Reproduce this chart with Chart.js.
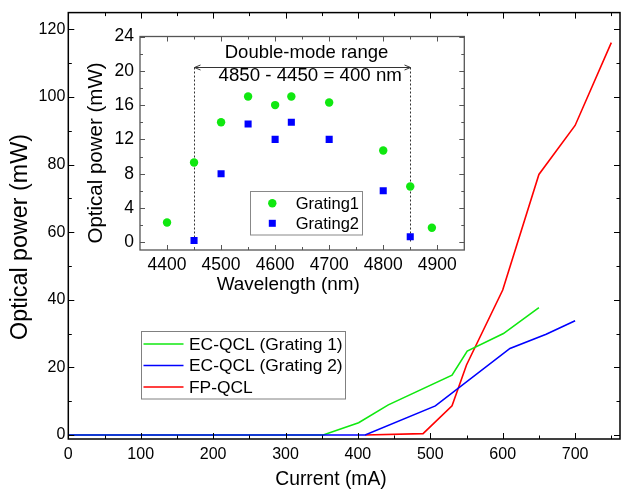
<!DOCTYPE html>
<html><head><meta charset="utf-8">
<script src="https://cdn.jsdelivr.net/npm/chart.js@4.4.1/dist/chart.umd.min.js"></script>
<style>
html,body{margin:0;padding:0;background:#fff;}
#wrap{position:relative;width:622px;height:491px;overflow:hidden;background:#fff;}
#main{position:absolute;left:0;top:0;}
#inset{position:absolute;left:80px;top:20px;}
</style></head><body>
<div id="wrap"><canvas id="main" width="622" height="491"></canvas><canvas id="inset" width="400" height="280"></canvas></div>
<script>
// ---- main chart data ----
const currentG1 = [0, 352, 401, 442, 530, 551, 601, 650];
const powerG1   = [0, 0, 3.6, 8.9, 17.7, 24.8, 30.0, 37.7];
const currentG2 = [0, 410, 507, 610, 660, 700];
const powerG2   = [0, 0, 8.6, 25.6, 29.8, 33.8];
const currentFP = [410, 490, 530, 550, 600, 650, 700, 750];
const powerFP   = [0, 0.4, 8.6, 20.7, 42.9, 77.1, 91.6, 116.1];
const mainXTicks = [0, 100, 200, 300, 400, 500, 600, 700];
const mainXMinor = [50, 150, 250, 350, 450, 550, 650, 750];
const mainYTicks = [0, 20, 40, 60, 80, 100, 120];
const mainYMinor = [10, 30, 50, 70, 90, 110];
const mainLabels = ['EC-QCL (Grating 1)', 'EC-QCL (Grating 2)', 'FP-QCL'];

// ---- inset data ----
const wlG1 = [4400, 4450, 4500, 4550, 4600, 4630, 4700, 4800, 4850, 4890];
const pwG1 = [2.3, 9.3, 14.0, 17.0, 16.0, 17.0, 16.3, 10.7, 6.5, 1.7];
const wlG2 = [4450, 4500, 4550, 4600, 4630, 4700, 4800, 4850];
const pwG2 = [0.2, 8.0, 13.8, 12.0, 14.0, 12.0, 6.0, 0.65];
const insetXTicks = [4400, 4500, 4600, 4700, 4800, 4900];
const insetXMinor = [4450, 4550, 4650, 4750, 4850];
const insetYTicks = [0, 4, 8, 12, 16, 20, 24];
const insetYMinor = [2, 6, 10, 14, 18, 22];
const insetLabels = ['Grating1', 'Grating2'];
const rangeStart = 4450, rangeEnd = 4850, arrowLevel = 20.4;
const rangeTitle = 'Double-mode range';
const rangeText = '4850 - 4450 = 400 nm';

const FONT = "'Liberation Sans', Arial, Helvetica, sans-serif";
const pts = (xs, ys) => xs.map((x, i) => ({x: x, y: ys[i]}));
const fixTicks = vals => s => { s.ticks = vals.map(v => ({value: v})); };
const plain = v => String(v);

function drawFrameTicks(chart, xMaj, xMin, yMaj, yMin, majLen, minLen, color, lw) {
  const ctx = chart.ctx, a = chart.chartArea, xs = chart.scales.x, ys = chart.scales.y;
  ctx.save();
  ctx.strokeStyle = color; ctx.lineWidth = 1;
  ctx.beginPath();
  const vx = (list, len) => list.forEach(v => {
    const p = Math.round(xs.getPixelForValue(v)) + 0.5;
    ctx.moveTo(p, a.bottom); ctx.lineTo(p, a.bottom - len);
    ctx.moveTo(p, a.top); ctx.lineTo(p, a.top + len);
  });
  const vy = (list, len) => list.forEach(v => {
    const p = Math.round(ys.getPixelForValue(v)) + 0.5;
    ctx.moveTo(a.left, p); ctx.lineTo(a.left + len, p);
    ctx.moveTo(a.right, p); ctx.lineTo(a.right - len, p);
  });
  vx(xMaj, majLen); vx(xMin, minLen); vy(yMaj, majLen); vy(yMin, minLen);
  ctx.stroke();
  ctx.lineWidth = lw;
  ctx.strokeRect(a.left, a.top, a.right - a.left, a.bottom - a.top);
  ctx.restore();
}

// ---------------- main chart ----------------
new Chart(document.getElementById('main'), {
  type: 'line',
  data: { datasets: [
    { label: mainLabels[0], data: pts(currentG1, powerG1), borderColor: '#10e810', order: 1 },
    { label: mainLabels[1], data: pts(currentG2, powerG2), borderColor: '#0000ff', order: 0 },
    { label: mainLabels[2], data: pts(currentFP, powerFP), borderColor: '#ff0000', order: 2 }
  ]},
  options: {
    responsive: false, animation: false, devicePixelRatio: 1,
    layout: { padding: { left: 0, top: 12, right: 2, bottom: 0 } },
    elements: { line: { borderWidth: 1.6, tension: 0 }, point: { radius: 0 } },
    scales: {
      x: { type: 'linear', min: 0, max: 762, afterBuildTicks: fixTicks(mainXTicks),
           afterFit: s => { s.height = 52; },
           grid: { display: false, drawTicks: false }, border: { display: false },
           ticks: { font: { family: FONT, size: 16 }, color: '#000', padding: 6, maxRotation: 0, autoSkip: false, callback: plain } },
      y: { type: 'linear', min: -1.2, max: 125, afterBuildTicks: fixTicks(mainYTicks),
           afterFit: s => { s.width = 68.3; },
           grid: { display: false, drawTicks: false }, border: { display: false },
           ticks: { font: { family: FONT, size: 16 }, color: '#000', padding: 3, autoSkip: false, callback: plain } }
    },
    plugins: { legend: { display: false }, tooltip: { enabled: false } }
  },
  plugins: [{
    id: 'mainDeco',
    afterDraw(chart) {
      drawFrameTicks(chart, mainXTicks, mainXMinor, mainYTicks, mainYMinor, 6, 3.5, '#000', 1.5);
      const ctx = chart.ctx;
      ctx.save();
      ctx.fillStyle = '#000';
      // axis titles
      ctx.font = '19.3px ' + FONT; ctx.textAlign = 'center'; ctx.textBaseline = 'alphabetic';
      ctx.fillText('Current (mA)', 331, 485);
      ctx.save(); ctx.translate(20.5, 237); ctx.rotate(-Math.PI / 2);
      ctx.font = '23.3px ' + FONT; ctx.textBaseline = 'middle';
      ctx.fillText('Optical power (mW)', 0, 0); ctx.restore();
      // legend
      const bx = 141.5, by = 331.5, bw = 204, bh = 67.5;
      ctx.fillStyle = '#fff'; ctx.fillRect(bx, by, bw, bh);
      ctx.strokeStyle = '#808080'; ctx.lineWidth = 1; ctx.strokeRect(bx, by, bw, bh);
      const rows = [344, 365.5, 387];
      ctx.font = '17.4px ' + FONT; ctx.textAlign = 'left'; ctx.textBaseline = 'middle';
      chart.data.datasets.forEach((d, i) => {
        ctx.strokeStyle = d.borderColor; ctx.lineWidth = 1.6;
        ctx.beginPath(); ctx.moveTo(143.5, rows[i]); ctx.lineTo(183.5, rows[i]); ctx.stroke();
        ctx.fillStyle = '#000'; ctx.fillText(d.label, 189, rows[i] + 1);
      });
      ctx.restore();
    }
  }]
});

// ---------------- inset chart ----------------
new Chart(document.getElementById('inset'), {
  type: 'scatter',
  data: { datasets: [
    { label: insetLabels[0], data: pts(wlG1, pwG1), pointStyle: 'circle', pointRadius: 4.2,
      backgroundColor: '#10e810', borderColor: '#10e810', borderWidth: 0 },
    { label: insetLabels[1], data: pts(wlG2, pwG2), pointStyle: 'rect', pointRadius: 5,
      backgroundColor: '#0000ff', borderColor: '#0000ff', borderWidth: 0 }
  ]},
  options: {
    responsive: false, animation: false, devicePixelRatio: 1,
    layout: { padding: { left: 0, top: 14, right: 15.7, bottom: 0 } },
    scales: {
      x: { type: 'linear', min: 4350, max: 4950, afterBuildTicks: fixTicks(insetXTicks),
           afterFit: s => { s.height = 50; },
           grid: { display: false, drawTicks: false }, border: { display: false },
           ticks: { font: { family: FONT, size: 17.5 }, color: '#000', padding: 5, maxRotation: 0, autoSkip: false, callback: plain } },
      y: { type: 'linear', min: -0.9, max: 24, afterBuildTicks: fixTicks(insetYTicks),
           afterFit: s => { s.width = 60; },
           grid: { display: false, drawTicks: false }, border: { display: false },
           ticks: { font: { family: FONT, size: 17.5 }, color: '#000', padding: 6, autoSkip: false, callback: plain } }
    },
    plugins: { legend: { display: false }, tooltip: { enabled: false } }
  },
  plugins: [{
    id: 'insetDeco',
    beforeDatasetsDraw(chart) {
      const ctx = chart.ctx, a = chart.chartArea, xs = chart.scales.x, ys = chart.scales.y;
      ctx.save();
      ctx.fillStyle = '#fff'; ctx.fillRect(a.left, a.top, a.right - a.left, a.bottom - a.top);
      const x1 = Math.round(xs.getPixelForValue(rangeStart)) + 0.5;
      const x2 = Math.round(xs.getPixelForValue(rangeEnd)) + 0.5;
      const ya = Math.round(ys.getPixelForValue(arrowLevel)) + 0.5;
      const y0 = ys.getPixelForValue(0);
      ctx.strokeStyle = '#333'; ctx.lineWidth = 1;
      ctx.setLineDash([2, 2]);
      ctx.beginPath();
      ctx.moveTo(x1, ya); ctx.lineTo(x1, y0);
      ctx.moveTo(x2, ya); ctx.lineTo(x2, y0);
      ctx.stroke();
      ctx.setLineDash([]);
      ctx.beginPath();
      ctx.moveTo(x1, ya); ctx.lineTo(x2, ya);
      ctx.moveTo(x1 + 6, ya - 2.5); ctx.lineTo(x1, ya); ctx.lineTo(x1 + 6, ya + 2.5);
      ctx.moveTo(x2 - 6, ya - 2.5); ctx.lineTo(x2, ya); ctx.lineTo(x2 - 6, ya + 2.5);
      ctx.stroke();
      ctx.fillStyle = '#000'; ctx.textAlign = 'center'; ctx.textBaseline = 'alphabetic';
      ctx.font = '18.5px ' + FONT;
      ctx.fillText(rangeTitle, 226.5, 38.3);
      ctx.font = '18.7px ' + FONT;
      ctx.fillText(rangeText, 230.2, 61);
      ctx.restore();
    },
    afterDraw(chart) {
      drawFrameTicks(chart, insetXTicks, insetXMinor, insetYTicks, insetYMinor, 5, 3, '#555', 1.3);
      const ctx = chart.ctx;
      ctx.save();
      ctx.fillStyle = '#000'; ctx.textAlign = 'center';
      ctx.font = '18.9px ' + FONT; ctx.textBaseline = 'alphabetic';
      ctx.fillText('Wavelength (nm)', 208.3, 270);
      ctx.save(); ctx.translate(16.7, 133); ctx.rotate(-Math.PI / 2);
      ctx.font = '20.5px ' + FONT; ctx.textBaseline = 'middle';
      ctx.fillText('Optical power (mW)', 0, 0); ctx.restore();
      // legend
      const bx = 170.5, by = 171.5, bw = 112, bh = 43.5;
      ctx.fillStyle = '#fff'; ctx.fillRect(bx, by, bw, bh);
      ctx.strokeStyle = '#888'; ctx.lineWidth = 1; ctx.strokeRect(bx, by, bw, bh);
      const rows = [183.3, 203.3];
      ctx.font = '16.5px ' + FONT; ctx.textAlign = 'left'; ctx.textBaseline = 'middle';
      chart.data.datasets.forEach((d, i) => {
        ctx.fillStyle = d.backgroundColor;
        ctx.beginPath();
        if (d.pointStyle === 'circle') { ctx.arc(192.3, rows[i], 4.2, 0, Math.PI * 2); ctx.fill(); }
        else { ctx.fillRect(192.3 - 3.5, rows[i] - 3.5, 7, 7); }
        ctx.fillStyle = '#000'; ctx.fillText(d.label, 215.7, rows[i] + 1);
      });
      ctx.restore();
    }
  }]
});
</script>
</body></html>
